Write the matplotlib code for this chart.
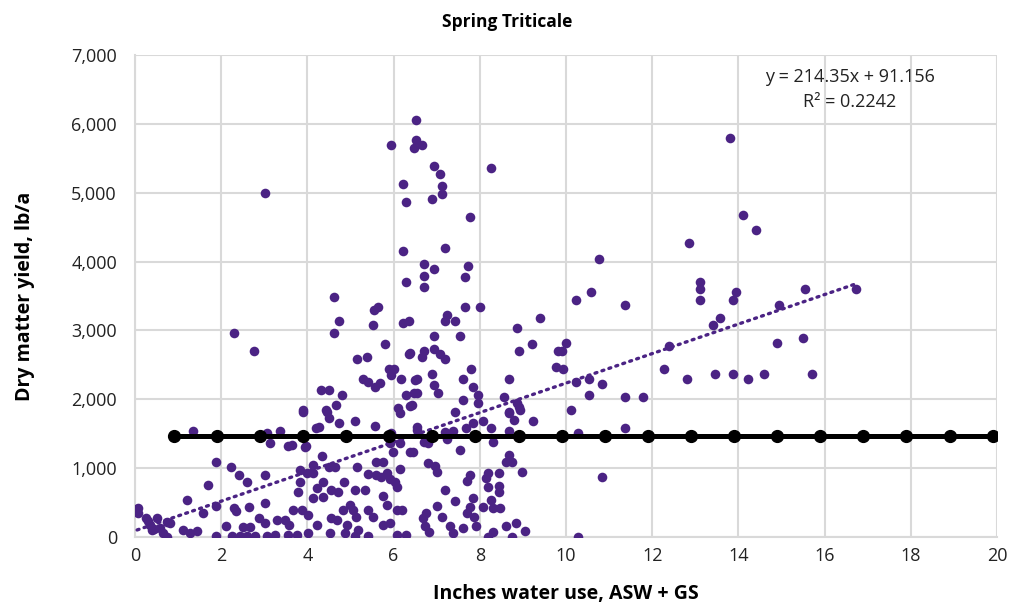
import matplotlib
matplotlib.use("Agg")
import matplotlib.pyplot as plt
from matplotlib.ticker import FuncFormatter, MultipleLocator
import numpy as np

plt.rcParams['font.family'] = ['Open Sans', 'DejaVu Sans']

# water use (inches) and dry matter yield (lb/a)
water = [
    13.8, 14.11, 14.42, 12.86, 10.77, 13.10, 13.10, 13.10, 13.94, 13.87, 15.55, 16.74, 14.95,
    10.23, 10.59, 11.37, 13.57, 13.40, 9.99, 9.90, 12.38, 14.89, 15.49, 9.94, 12.27, 10.23,
    10.53, 10.83, 10.53, 11.37, 11.79, 12.80, 13.46, 13.87, 14.23, 14.59, 15.72, 10.12, 11.37,
    10.29, 10.83, 10.29,
    6.53, 5.93, 6.53, 6.65, 6.47, 6.94, 7.07, 8.25, 6.23, 7.13, 7.13, 6.89, 6.29, 7.78, 6.23,
    7.19, 6.71, 6.94, 7.73, 7.66, 6.71, 6.29, 6.71, 4.62, 5.64, 7.66, 8.01,
    2.29, 2.77, 3.02,
    5.55, 4.73, 4.62, 5.52, 6.23, 6.35, 5.81, 6.35, 5.15, 5.39, 5.89, 6.0, 5.93, 5.28, 5.41,
    5.58, 5.68, 6.17, 6.49, 6.29, 6.47, 4.31, 4.50, 4.80, 4.67, 3.90, 4.43, 6.11, 6.38,
    7.25, 7.19, 7.43, 9.40, 8.86, 6.94, 7.54, 9.22, 8.92, 9.82, 6.71, 6.65, 6.38, 6.94, 7.08,
    7.19, 9.78, 7.79, 6.89, 6.54, 8.68, 7.60, 6.94, 7.85, 7.04, 6.54, 7.96, 7.96, 7.60, 8.56,
    8.86, 8.92, 6.42, 7.42, 8.68,
    7.85, 7.68, 8.08, 8.25, 8.68, 8.79, 8.93, 9.23, 7.37, 8.68, 6.54, 6.71, 7.25, 8.31, 7.54,
    6.44, 6.81, 6.96, 7.01, 8.67, 8.62, 8.74, 8.99, 7.77, 7.71, 8.20, 8.14, 8.45, 8.45, 8.45,
    8.20, 7.19, 7.42, 7.84, 8.26, 8.47, 8.31, 7.01, 7.77, 8.08, 7.71, 6.75, 6.69, 7.12, 7.87,
    7.91, 6.73, 6.83, 7.31, 7.37, 7.60, 8.62, 8.84, 9.05, 8.31, 8.20, 8.74,
    3.91, 4.45, 4.51, 4.74, 5.10, 5.58, 6.15, 4.19, 4.28, 5.93, 3.56, 3.97, 5.98, 6.38, 4.33,
    5.59, 5.75, 4.14, 4.51, 4.64, 5.16, 6.16, 3.83, 3.98, 5.40, 5.59, 5.72, 5.84, 5.92, 4.14,
    3.83, 6.03, 4.37, 4.86, 6.07, 3.79, 4.22, 4.56, 4.72, 5.10, 5.34, 5.76, 4.14, 4.37, 4.99,
    5.07, 5.84, 6.07, 6.19, 4.83, 5.41, 3.67, 3.29, 3.48, 3.87, 4.02, 4.56, 4.68, 5.14, 5.53,
    5.75, 5.92, 4.22, 3.58, 3.25, 3.56, 3.75, 4.02, 4.52, 4.87, 5.10, 5.18, 5.41, 6.07, 6.30,
    4.91,
    1.34, 1.87, 2.23, 2.41, 2.59, 3.01, 1.69, 1.21, 1.87, 1.57, 2.30, 2.34, 2.65, 3.01, 0.08,
    0.08, 0.26, 0.50, 0.74, 0.81, 0.35, 0.58, 0.39, 0.66, 0.74, 1.12, 1.28, 2.11, 2.51, 2.67,
    2.88, 3.02, 1.88, 2.24, 2.44, 2.59, 2.78, 3.07, 3.13, 3.07, 3.36,
    6.54, 6.81, 7.19, 3.64, 3.94, 5.92, 6.15, 0.05, 0.30, 0.45, 1.45,
]
yield_lb = [
    5800, 4676, 4454, 4265, 4042, 3708, 3597, 3446, 3558, 3442, 3597, 3597, 3374,
    3446, 3558, 3374, 3185, 3074, 2813, 2706, 2774, 2813, 2885, 2440, 2440, 2251,
    2290, 2218, 2067, 2029, 2029, 2290, 2363, 2363, 2290, 2363, 2363, 1844, 1578,
    1506, 867, 5,
    6060, 5687, 5760, 5687, 5644, 5387, 5275, 5353, 5126, 5092, 4976, 4903, 4864, 4642, 4157,
    4192, 3969, 3891, 3930, 3780, 3785, 3707, 3630, 3485, 3335, 3335, 3335,
    2958, 2696, 4990,
    3296, 3141, 2962, 3074, 3112, 3141, 2807, 2661, 2585, 2618, 2435, 2435, 2352, 2290, 2246,
    2174, 2240, 2290, 2280, 2062, 2087, 2134, 2134, 2062, 1912, 1844, 1840, 1869, 1902,
    3224, 3141, 3141, 3185, 3030, 2923, 2923, 2807, 2701, 2701, 2701, 2618, 2667, 2734, 2657,
    2585, 2473, 2440, 2362, 2290, 2290, 2290, 2207, 2174, 2096, 2096, 2062, 1950, 1989, 2029,
    1950, 1883, 1917, 1820, 1820,
    1651, 1578, 1689, 1578, 1796, 1699, 1844, 1689, 1543, 1543, 1554, 1384, 1419, 1384, 1263,
    1239, 1070, 1031, 948, 1191, 1094, 1094, 948, 900, 818, 925, 852, 934, 741, 658,
    722, 683, 527, 562, 537, 417, 417, 450, 440, 440, 344, 344, 271, 295, 295,
    160, 160, 77, 160, 62, 126, 160, 199, 91, 77, 5, 5,
    1820, 1820, 1723, 1651, 1684, 1612, 1796, 1578, 1602, 1506, 1321, 1321, 1239, 1239, 1176,
    1094, 1094, 1046, 1021, 1021, 1012, 983, 973, 925, 910, 900, 876, 925, 838, 925,
    803, 803, 803, 803, 730, 658, 707, 683, 658, 683, 683, 596, 562, 576, 465,
    392, 465, 392, 392, 392, 392, 392, 247, 247, 392, 319, 271, 247, 295, 295,
    174, 199, 174, 174, 29, 29, 29, 53, 53, 53, 15, 102, 15, 29, 29,
    174,
    1543, 1094, 1012, 900, 794, 900, 755, 537, 455, 344, 417, 382, 431, 489, 417,
    344, 271, 271, 222, 199, 174, 126, 102, 53, 5, 102, 53, 160, 150, 150,
    271, 199, 15, 15, 15, 15, 15, 15, 1360, 1506, 1543,
    1602, 1360, 1529, 1336, 1311, 1360, 1360, 400, 230, 120, 80,
]

# reference line (black) and linear trend
ref_x = [0.9 + i for i in range(20)]
ref_y = [1460] * 20
slope, intercept = 214.35, 91.156

fig = plt.figure(figsize=(10.14, 6.08), dpi=100)
ax = fig.add_axes([0.1331, 0.1168, 0.8501, 0.7927])

purple = '#4b2384'
ax.scatter(water, yield_lb, s=48, color=purple, zorder=3, linewidths=0)

tx = np.array([min(water), max(water)])
ax.plot(tx, slope * tx + intercept, linestyle=(0, (0.6, 1.6)), color=purple,
        linewidth=2.4, dash_capstyle='round', zorder=4)

ax.plot(ref_x, ref_y, color='black', linewidth=3.6, marker='o', markersize=8.5, zorder=5)

ax.set_xlim(0, 20)
ax.set_ylim(0, 7000)
ax.xaxis.set_major_locator(MultipleLocator(2))
ax.yaxis.set_major_locator(MultipleLocator(1000))
ax.yaxis.set_major_formatter(FuncFormatter(lambda v, p: f'{int(v):,}'))
ax.grid(True, color='#d9d9d9', linewidth=1.5, zorder=0)
ax.set_axisbelow(True)
for s in ax.spines.values():
    s.set_visible(False)
for side in ('bottom', 'left'):
    ax.spines[side].set_visible(True)
    ax.spines[side].set_color('#d9d9d9')
    ax.spines[side].set_linewidth(1.5)
ax.tick_params(length=0, labelsize=13, colors='#222222')
ax.tick_params(axis='y', pad=13)
ax.tick_params(axis='x', pad=7)

ax.set_xlabel('Inches water use, ASW + GS', fontsize=14, fontweight='bold', labelpad=14)
ax.set_ylabel('Dry matter yield, lb/a', fontsize=14, fontweight='bold', labelpad=26)
fig.text(0.5, 0.963, 'Spring Triticale', ha='center', va='center', fontsize=12.5, fontweight='bold')

ax.text(0.829, 0.955, 'y = 214.35x + 91.156', transform=ax.transAxes, ha='center',
        va='center', fontsize=13, color='#222222')
ax.text(0.829, 0.903, 'R\u00b2 = 0.2242', transform=ax.transAxes, ha='center',
        va='center', fontsize=13, color='#222222')

fig.savefig('out.png', dpi=100)
